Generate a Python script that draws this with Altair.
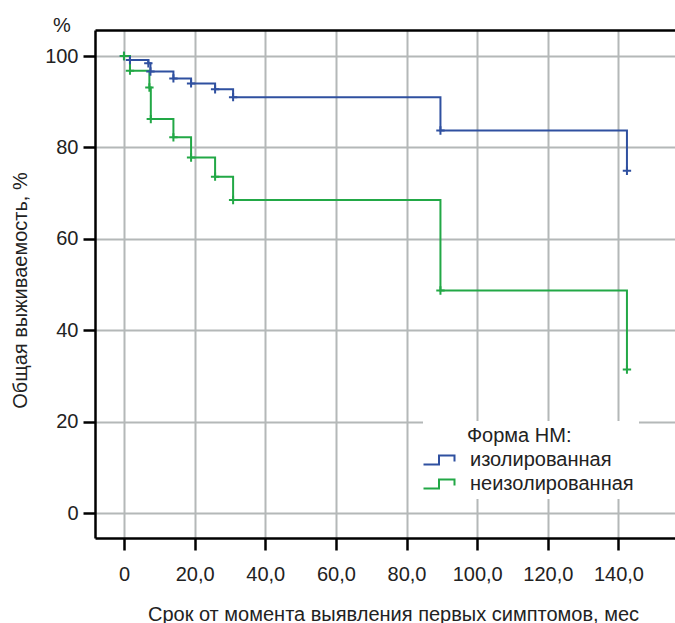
import altair as alt
import pandas as pd

groups = ["изолированная", "неизолированная"]
colors = ["#2f50a0", "#22a846"]

blue_t = [0, 1.7, 6.9, 7.5, 14.0, 19.0, 25.8, 30.9, 89.6, 142.4]
blue_s = [100, 99.1, 98.4, 96.6, 95.1, 94.0, 92.7, 91.0, 83.7, 74.9]

green_t = [0, 1.7, 7.2, 7.6, 14.0, 19.0, 25.8, 30.9, 89.6, 142.4]
green_s = [100, 96.8, 93.1, 86.2, 82.2, 77.8, 73.6, 68.5, 48.7, 31.4]

x_ticks = [0, 20, 40, 60, 80, 100, 120, 140]
y_ticks = [0, 20, 40, 60, 80, 100]

X_DOMAIN = [-8.2, 156.57]
Y_DOMAIN = [-5.47, 105.69]

rows = []
for t, s in zip(blue_t, blue_s):
    rows.append({"t": t, "s": s, "g": groups[0]})
for t, s in zip(green_t, green_s):
    rows.append({"t": t, "s": s, "g": groups[1]})
df = pd.DataFrame(rows)

FONT = "Liberation Sans"
W, H = 582, 508
xscale = alt.Scale(domain=X_DOMAIN, nice=False, zero=False)
yscale = alt.Scale(domain=Y_DOMAIN, nice=False, zero=False)
cscale = alt.Scale(domain=groups, range=colors)

step_symbol = "M-1.55,0.45L0,0.45L0,-0.45L1.55,-0.45L1.55,0.15"
plus_shape = "M-1,0L1,0M0,-1L0,1"

x_axis = alt.Axis(
    values=x_ticks, grid=True, orient="bottom",
    labelExpr="datum.value == 0 ? '0' : replace(format(datum.value, '.1f'), '.', ',')",
    tickSize=12, tickWidth=2.5, tickColor="black",
    labelPadding=14, labelFontSize=20, labelColor="#222",
    title="Срок от момента выявления первых симптомов, мес",
    titleFontSize=20, titleFontWeight="normal", titleColor="#222",
    titleX=298, titleY=82, titleBaseline="alphabetic", titleAnchor="middle",
)
y_axis = alt.Axis(
    values=y_ticks, grid=True, orient="left",
    tickSize=12, tickWidth=2.5, tickColor="black",
    labelPadding=5, labelFontSize=20, labelColor="#222",
    title="Общая выживаемость, %",
    titleFontSize=20, titleFontWeight="normal", titleColor="#222",
    titleX=-69, titleY=260, titleBaseline="alphabetic", titleAngle=270,
)
top_axis = alt.Axis(
    orient="top", labels=False, ticks=False, grid=False, title=None,
    domain=True, domainColor="black", domainWidth=2.5,
)

lines = alt.Chart(df).mark_line(interpolate="step-after", strokeWidth=2).encode(
    x=alt.X("t:Q", scale=xscale, axis=x_axis),
    y=alt.Y("s:Q", scale=yscale, axis=y_axis),
    color=alt.Color(
        "g:N", scale=cscale, sort=groups,
        legend=alt.Legend(
            title="\u200b" + "\u00a0" * 7 + "Форма НМ:",
            orient="none", legendX=328, legendY=391,
            fillColor="white", padding=5,
            symbolType=step_symbol, symbolSize=400, symbolStrokeWidth=2,
            symbolFillColor="transparent",
            labelFontSize=20, labelColor="#222", labelFont=FONT, labelLimit=300,
            titleFontSize=20, titleFontWeight="normal", titleColor="#222", titleFont=FONT,
            titleLimit=300,
            labelOffset=20, rowPadding=3, titlePadding=3,
        ),
    ),
)

points = alt.Chart(df).mark_point(shape=plus_shape, size=70, filled=False, strokeWidth=2, opacity=1).encode(
    x=alt.X("t:Q", scale=xscale, axis=top_axis),
    y=alt.Y("s:Q", scale=yscale, axis=y_axis),
    color=alt.Color("g:N", scale=cscale, sort=groups),
)

chart = alt.layer(lines, points).resolve_axis(x="independent").properties(
    width=W, height=H,
    autosize=alt.AutoSizeParams(type="none"),
    padding={"left": 95, "top": 30, "right": -2, "bottom": 85},
    title=alt.TitleParams("%", anchor="start", frame="group", dx=-42, dy=22, offset=0,
                          fontSize=20, fontWeight="normal", color="#222", font=FONT,
                          baseline="alphabetic"),
).configure(font=FONT).configure_axis(
    domainColor="black", domainWidth=2.5,
    gridColor="#b4b8b8", gridWidth=2,
    labelFont=FONT, titleFont=FONT,
).configure_view(stroke=None)

chart.save("out.html", embed_options={"renderer": "svg", "actions": False})
